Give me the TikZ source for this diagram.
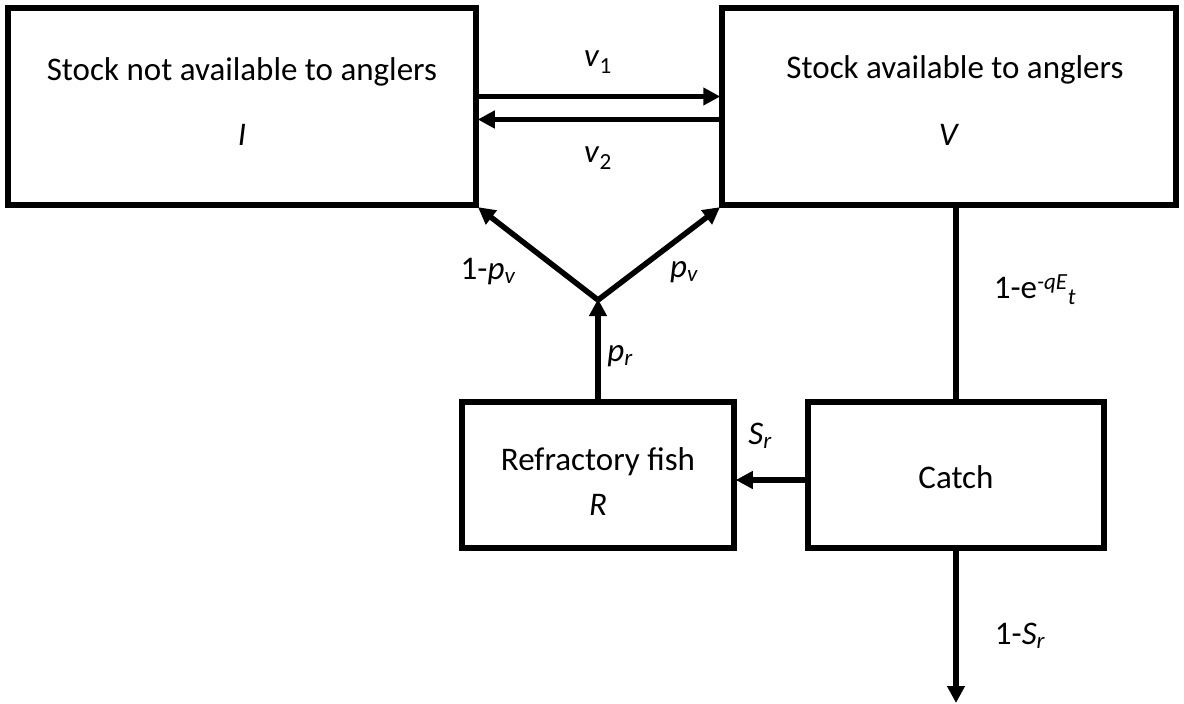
\documentclass[tikz,border=0pt]{standalone}
\usepackage{fontspec}
\setmainfont{Carlito}
\usetikzlibrary{arrows.meta}
\begin{document}
\begin{tikzpicture}[x=1pt,y=-1pt,
  box/.style={draw=black,line width=5.5pt,inner sep=0pt,fill=white},
  flow/.style={line width=5.5pt,-{Triangle[length=17pt,width=17pt]},shorten >=-1pt},
  plain/.style={line width=5.5pt},
  lab/.style={font=\fontsize{33}{38}\selectfont,inner sep=0pt}]
\useasboundingbox[fill=white] (0,0) rectangle (1184,704);
% boxes
\node[box,minimum width=468pt,minimum height=197pt] (I) at (242,106.5) {};
\node[box,minimum width=454pt,minimum height=197pt] (V) at (949,106.5) {};
\node[box,minimum width=272pt,minimum height=146pt] (R) at (598,475) {};
\node[box,minimum width=296pt,minimum height=146pt] (C) at (956,475) {};
% box texts
\node[lab] (It) at (242,72) {Stock not available to anglers};
\node[lab] (Iv) at (242,135) {\textit{I}};
\node[lab] (Vt) at (955,70) {Stock available to anglers};
\node[lab] (Vv) at (949,135) {\textit{V}};
\node[lab] (Rt) at (598,462) {Refractory fish};
\node[lab] (Rv) at (598,505) {\textit{R}};
\node[lab] (Ct) at (956,477) {Catch};
% connectors
\coordinate (J) at (598,300);
\coordinate (out) at (956,702);
\draw[flow] ([yshift=10pt]I.east) -- ([yshift=10pt]V.west);
\draw[flow] ([yshift=-13pt]V.west) -- ([yshift=-13pt]I.east);
\draw[flow] (J) -- (I.south east);
\draw[flow] (J) -- (V.south west);
\draw[flow] (R.north) -- (J);
\draw[plain] (C.north |- V.south) -- (C.north);
\draw[flow] ([yshift=-5pt]C.west) -- ([yshift=-5pt]R.east);
\draw[flow] (C.south) -- (out);
% labels
\node[lab] (lv1) at (598,62) {\textit{v}\textsubscript{1}};
\node[lab] (lv2) at (598,158) {\textit{v}\textsubscript{2}};
\node[lab] (l1pv) at (488,272) {1-\textit{p\textsubscript{v}}};
\node[lab] (lpv) at (684,272) {\textit{p\textsubscript{v}}};
\node[lab] (lpr) at (620,356) {\textit{p\textsubscript{r}}};
\node[lab] (lsr) at (760,436) {\textit{S\textsubscript{r}}};
\node[lab] (lq) at (1035,290) {1-e\textsuperscript{\textit{-qE}}\textsubscript{\textit{t}}};
\node[lab] (l1sr) at (1020,636) {1-\textit{S\textsubscript{r}}};
\end{tikzpicture}
\end{document}
